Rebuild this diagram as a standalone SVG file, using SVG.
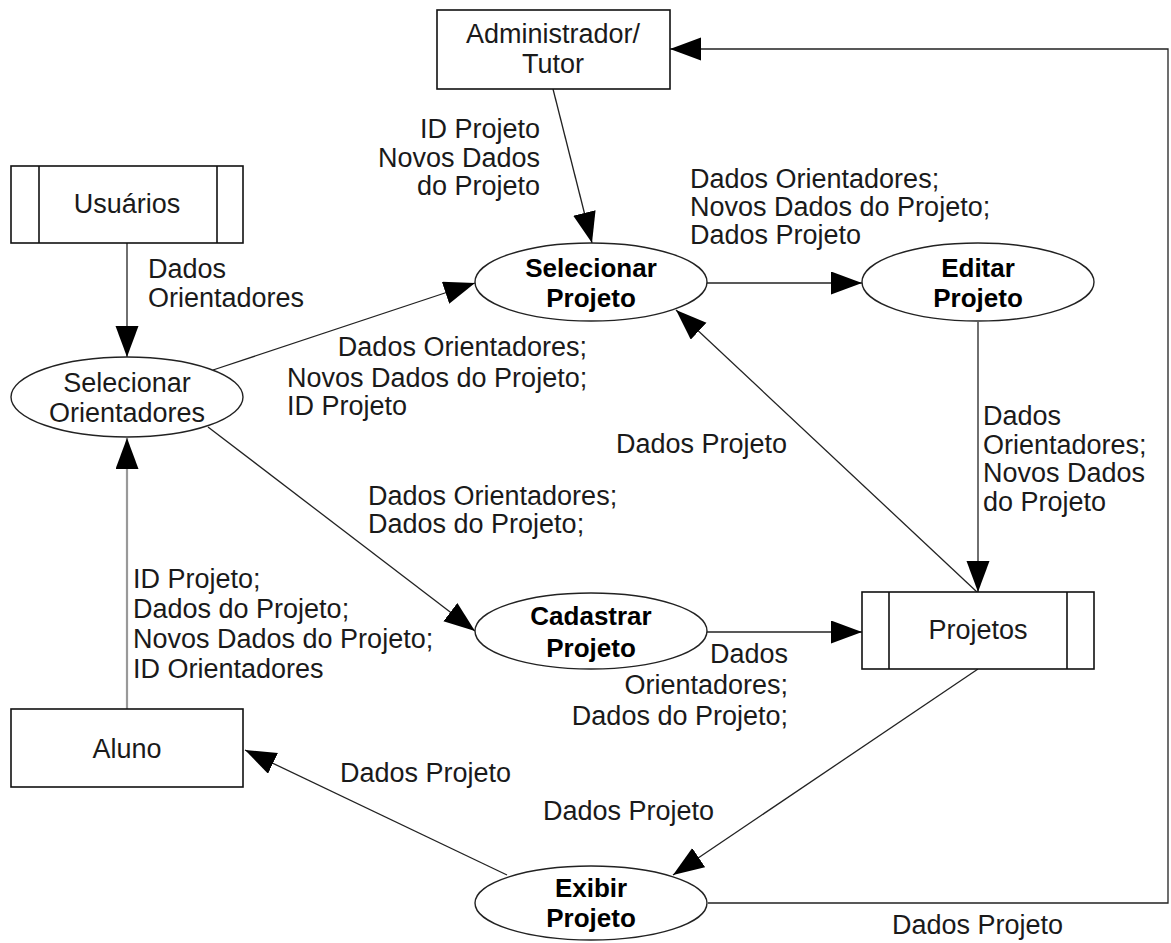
<svg xmlns="http://www.w3.org/2000/svg" width="1171" height="943" viewBox="0 0 1171 943">
  <style>
    .box { fill: #fff; stroke: #111; stroke-width: 1.6; }
    .bar { stroke: #111; stroke-width: 1.6; }
    .proc { fill: #fff; stroke: #222; stroke-width: 1.4; }
    .t { font-family: "Liberation Sans", Arial, sans-serif; font-size: 27px; fill: #1a1a1a; }
    .b { font-weight: bold; font-size: 26px; fill: #000; }
    .c { text-anchor: middle; }
    .r { text-anchor: end; }
    .flow { fill: none; stroke: #222; stroke-width: 1.3; marker-end: url(#arrow); }
    .grey { fill: none; stroke: #999; stroke-width: 2.2; marker-end: url(#arrow); }
  </style>
  <defs>
    <marker id="arrow" markerUnits="userSpaceOnUse" markerWidth="34" markerHeight="26" refX="31" refY="11.5" orient="auto">
      <path d="M0,0 L31,11.5 L0,23 Z" fill="#000"/>
    </marker>
  </defs>
  <rect width="1171" height="943" fill="#fff"/>

  <!-- data flows -->
  <g id="connectors">
    <line class="flow" x1="127" y1="243" x2="127" y2="357"/>
    <line class="grey" x1="127" y1="709" x2="127" y2="438"/>
    <line class="flow" x1="553" y1="89" x2="592" y2="243"/>
    <line class="flow" x1="213" y1="370" x2="475" y2="283"/>
    <line class="flow" x1="707" y1="283" x2="862" y2="283"/>
    <line class="flow" x1="978" y1="322" x2="978" y2="592"/>
    <line class="flow" x1="977" y1="592" x2="676" y2="310"/>
    <line class="flow" x1="208" y1="427" x2="475" y2="631"/>
    <line class="flow" x1="707" y1="632" x2="862" y2="632"/>
    <line class="flow" x1="978" y1="669" x2="673" y2="875"/>
    <line class="flow" x1="507" y1="875" x2="245" y2="750"/>
    <polyline class="flow" points="708,903 1168,903 1168,49 670,49"/>

    <!-- flow labels -->
    <text class="t r" x="540" y="138">ID Projeto</text>
    <text class="t r" x="540" y="167">Novos Dados</text>
    <text class="t r" x="540" y="195">do Projeto</text>

    <text class="t" x="690" y="188">Dados Orientadores;</text>
    <text class="t" x="690" y="216">Novos Dados do Projeto;</text>
    <text class="t" x="690" y="244">Dados Projeto</text>

    <text class="t" x="148" y="278">Dados</text>
    <text class="t" x="148" y="307">Orientadores</text>

    <text class="t r" x="587" y="356">Dados Orientadores;</text>
    <text class="t" x="287" y="387">Novos Dados do Projeto;</text>
    <text class="t" x="287" y="415">ID Projeto</text>

    <text class="t" x="616" y="453">Dados Projeto</text>

    <text class="t" x="983" y="425">Dados</text>
    <text class="t" x="983" y="454">Orientadores;</text>
    <text class="t" x="983" y="482">Novos Dados</text>
    <text class="t" x="983" y="511">do Projeto</text>

    <text class="t" x="368" y="505">Dados Orientadores;</text>
    <text class="t" x="368" y="533">Dados do Projeto;</text>

    <text class="t" x="133" y="588">ID Projeto;</text>
    <text class="t" x="133" y="618">Dados do Projeto;</text>
    <text class="t" x="133" y="648">Novos Dados do Projeto;</text>
    <text class="t" x="133" y="678">ID Orientadores</text>

    <text class="t r" x="788" y="663">Dados</text>
    <text class="t r" x="788" y="694">Orientadores;</text>
    <text class="t r" x="788" y="725">Dados do Projeto;</text>

    <text class="t" x="340" y="782">Dados Projeto</text>
    <text class="t" x="543" y="820">Dados Projeto</text>
    <text class="t" x="892" y="934">Dados Projeto</text>
  </g>

  <!-- external entities -->
  <g id="administrador">
    <rect class="box" x="437" y="10" width="233" height="79"/>
    <text class="t c" x="553" y="43">Administrador/</text>
    <text class="t c" x="553" y="73">Tutor</text>
  </g>
  <g id="aluno">
    <rect class="box" x="11" y="709" width="232" height="78"/>
    <text class="t c" x="127" y="758">Aluno</text>
  </g>

  <!-- data stores -->
  <g id="usuarios">
    <rect class="box" x="11" y="166" width="232" height="77"/>
    <line class="bar" x1="39" y1="166" x2="39" y2="243"/>
    <line class="bar" x1="217" y1="166" x2="217" y2="243"/>
    <text class="t c" x="127" y="213">Usuários</text>
  </g>
  <g id="projetos">
    <rect class="box" x="862" y="592" width="232" height="77"/>
    <line class="bar" x1="889" y1="592" x2="889" y2="669"/>
    <line class="bar" x1="1067" y1="592" x2="1067" y2="669"/>
    <text class="t c" x="978" y="639">Projetos</text>
  </g>

  <!-- processes -->
  <g id="selecionar-orientadores">
    <ellipse class="proc" cx="127" cy="397" rx="116" ry="40"/>
    <text class="t c" x="127" y="392">Selecionar</text>
    <text class="t c" x="127" y="422">Orientadores</text>
  </g>
  <g id="selecionar-projeto">
    <ellipse class="proc" cx="591" cy="282" rx="116" ry="39"/>
    <text class="t b c" x="591" y="277">Selecionar</text>
    <text class="t b c" x="591" y="307">Projeto</text>
  </g>
  <g id="editar-projeto">
    <ellipse class="proc" cx="978" cy="282" rx="116" ry="39"/>
    <text class="t b c" x="978" y="277">Editar</text>
    <text class="t b c" x="978" y="307">Projeto</text>
  </g>
  <g id="cadastrar-projeto">
    <ellipse class="proc" cx="591" cy="631" rx="116" ry="38"/>
    <text class="t b c" x="591" y="625">Cadastrar</text>
    <text class="t b c" x="591" y="657">Projeto</text>
  </g>
  <g id="exibir-projeto">
    <ellipse class="proc" cx="591" cy="903" rx="116" ry="37"/>
    <text class="t b c" x="591" y="897">Exibir</text>
    <text class="t b c" x="591" y="927">Projeto</text>
  </g>
</svg>
